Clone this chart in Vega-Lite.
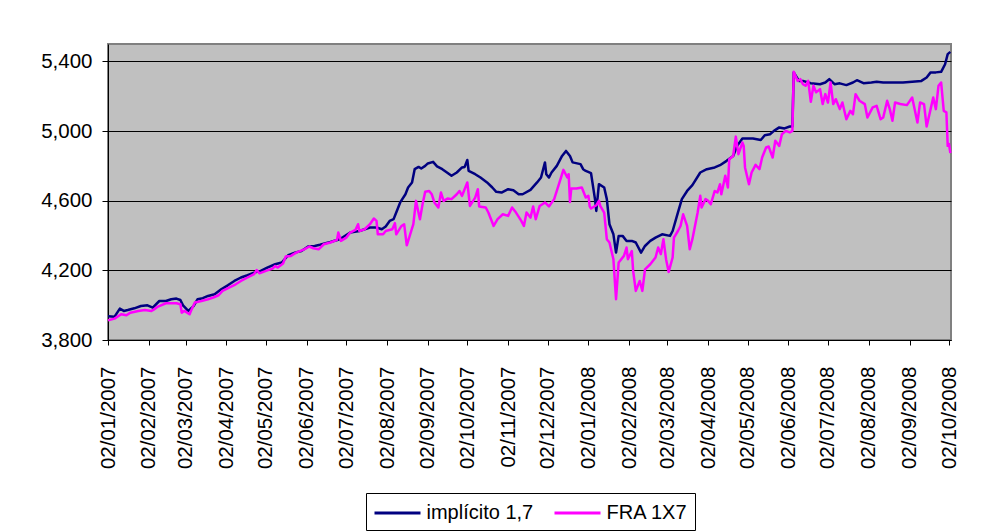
{
  "$schema": "https://vega.github.io/schema/vega-lite/v6.json",
  "width": 843,
  "height": 296,
  "autosize": {"type": "none"},
  "padding": {"left": 108, "top": 44, "right": 36, "bottom": 191},
  "background": "white",
  "config": {
    "font": "Liberation Sans",
    "view": {"fill": "#C0C0C0", "stroke": "#808080", "strokeWidth": 2},
    "axis": {"labelFont": "Liberation Sans", "labelColor": "black", "tickColor": "black", "domainColor": "black", "domainWidth": 1, "tickWidth": 1}
  },
  "datasets": {
    "impl": [
      {"d":"2007-01-02","v":3936},{"d":"2007-01-07","v":3934},{"d":"2007-01-11","v":3980},{"d":"2007-01-14","v":3967},{"d":"2007-01-17","v":3972},{"d":"2007-01-22","v":3982},{"d":"2007-01-27","v":3995},{"d":"2007-02-01","v":3999},{"d":"2007-02-05","v":3986},{"d":"2007-02-10","v":4024},{"d":"2007-02-15","v":4024},{"d":"2007-02-19","v":4034},{"d":"2007-02-23","v":4038},{"d":"2007-02-26","v":4030},{"d":"2007-02-28","v":3999},{"d":"2007-03-04","v":3967},{"d":"2007-03-08","v":3995},{"d":"2007-03-11","v":4034},{"d":"2007-03-15","v":4040},{"d":"2007-03-19","v":4053},{"d":"2007-03-24","v":4063},{"d":"2007-03-29","v":4091},{"d":"2007-04-03","v":4114},{"d":"2007-04-08","v":4139},{"d":"2007-04-13","v":4159},{"d":"2007-04-18","v":4172},{"d":"2007-04-23","v":4187},{"d":"2007-04-28","v":4197},{"d":"2007-05-03","v":4216},{"d":"2007-05-09","v":4235},{"d":"2007-05-14","v":4245},{"d":"2007-05-19","v":4287},{"d":"2007-05-24","v":4302},{"d":"2007-05-29","v":4311},{"d":"2007-06-03","v":4337},{"d":"2007-06-08","v":4340},{"d":"2007-06-12","v":4347},{"d":"2007-06-20","v":4363},{"d":"2007-06-27","v":4379},{"d":"2007-07-05","v":4417},{"d":"2007-07-12","v":4426},{"d":"2007-07-20","v":4446},{"d":"2007-07-25","v":4446},{"d":"2007-07-29","v":4436},{"d":"2007-08-01","v":4452},{"d":"2007-08-04","v":4484},{"d":"2007-08-07","v":4494},{"d":"2007-08-09","v":4532},{"d":"2007-08-12","v":4590},{"d":"2007-08-16","v":4637},{"d":"2007-08-18","v":4676},{"d":"2007-08-21","v":4705},{"d":"2007-08-23","v":4781},{"d":"2007-08-26","v":4794},{"d":"2007-08-28","v":4785},{"d":"2007-08-31","v":4800},{"d":"2007-09-02","v":4814},{"d":"2007-09-06","v":4823},{"d":"2007-09-09","v":4797},{"d":"2007-09-13","v":4781},{"d":"2007-09-16","v":4765},{"d":"2007-09-20","v":4743},{"d":"2007-09-24","v":4762},{"d":"2007-09-28","v":4791},{"d":"2007-09-30","v":4794},{"d":"2007-10-02","v":4834},{"d":"2007-10-03","v":4771},{"d":"2007-10-08","v":4752},{"d":"2007-10-12","v":4733},{"d":"2007-10-17","v":4705},{"d":"2007-10-21","v":4676},{"d":"2007-10-24","v":4651},{"d":"2007-10-28","v":4647},{"d":"2007-11-02","v":4666},{"d":"2007-11-06","v":4660},{"d":"2007-11-10","v":4637},{"d":"2007-11-13","v":4637},{"d":"2007-11-19","v":4662},{"d":"2007-11-24","v":4705},{"d":"2007-11-27","v":4733},{"d":"2007-11-30","v":4820},{"d":"2007-12-01","v":4752},{"d":"2007-12-03","v":4733},{"d":"2007-12-05","v":4762},{"d":"2007-12-09","v":4800},{"d":"2007-12-13","v":4857},{"d":"2007-12-16","v":4886},{"d":"2007-12-19","v":4857},{"d":"2007-12-21","v":4820},{"d":"2007-12-27","v":4810},{"d":"2007-12-29","v":4781},{"d":"2007-12-31","v":4771},{"d":"2008-01-04","v":4758},{"d":"2008-01-07","v":4609},{"d":"2008-01-08","v":4541},{"d":"2008-01-10","v":4695},{"d":"2008-01-14","v":4676},{"d":"2008-01-16","v":4609},{"d":"2008-01-18","v":4465},{"d":"2008-01-21","v":4407},{"d":"2008-01-23","v":4302},{"d":"2008-01-25","v":4398},{"d":"2008-01-28","v":4398},{"d":"2008-01-31","v":4369},{"d":"2008-02-04","v":4369},{"d":"2008-02-07","v":4360},{"d":"2008-02-11","v":4302},{"d":"2008-02-14","v":4340},{"d":"2008-02-18","v":4369},{"d":"2008-02-22","v":4388},{"d":"2008-02-27","v":4407},{"d":"2008-03-04","v":4398},{"d":"2008-03-06","v":4426},{"d":"2008-03-10","v":4532},{"d":"2008-03-13","v":4609},{"d":"2008-03-17","v":4656},{"d":"2008-03-21","v":4689},{"d":"2008-03-27","v":4762},{"d":"2008-04-01","v":4781},{"d":"2008-04-07","v":4791},{"d":"2008-04-11","v":4804},{"d":"2008-04-16","v":4829},{"d":"2008-04-21","v":4857},{"d":"2008-04-24","v":4915},{"d":"2008-04-28","v":4957},{"d":"2008-05-01","v":4957},{"d":"2008-05-06","v":4957},{"d":"2008-05-12","v":4949},{"d":"2008-05-15","v":4976},{"d":"2008-05-19","v":4982},{"d":"2008-05-22","v":5001},{"d":"2008-05-26","v":5021},{"d":"2008-05-30","v":5015},{"d":"2008-06-03","v":5026},{"d":"2008-06-05","v":5026},{"d":"2008-06-06","v":5337},{"d":"2008-06-10","v":5288},{"d":"2008-06-13","v":5288},{"d":"2008-06-19","v":5275},{"d":"2008-06-26","v":5269},{"d":"2008-06-30","v":5279},{"d":"2008-07-03","v":5298},{"d":"2008-07-07","v":5269},{"d":"2008-07-11","v":5274},{"d":"2008-07-16","v":5264},{"d":"2008-07-21","v":5279},{"d":"2008-07-24","v":5292},{"d":"2008-07-29","v":5275},{"d":"2008-08-04","v":5279},{"d":"2008-08-08","v":5283},{"d":"2008-08-13","v":5279},{"d":"2008-08-20","v":5279},{"d":"2008-08-28","v":5279},{"d":"2008-09-04","v":5283},{"d":"2008-09-11","v":5288},{"d":"2008-09-15","v":5308},{"d":"2008-09-18","v":5337},{"d":"2008-09-22","v":5337},{"d":"2008-09-26","v":5340},{"d":"2008-09-29","v":5384},{"d":"2008-10-01","v":5442},{"d":"2008-10-03","v":5455}
    ],
    "fra": [
      {"d":"2007-01-02","v":3913},{"d":"2007-01-07","v":3923},{"d":"2007-01-12","v":3948},{"d":"2007-01-16","v":3942},{"d":"2007-01-19","v":3957},{"d":"2007-01-25","v":3967},{"d":"2007-01-30","v":3972},{"d":"2007-02-04","v":3967},{"d":"2007-02-06","v":3976},{"d":"2007-02-09","v":3992},{"d":"2007-02-15","v":4011},{"d":"2007-02-19","v":4011},{"d":"2007-02-23","v":4011},{"d":"2007-02-26","v":4005},{"d":"2007-02-27","v":3957},{"d":"2007-03-01","v":3967},{"d":"2007-03-05","v":3948},{"d":"2007-03-06","v":3967},{"d":"2007-03-09","v":4015},{"d":"2007-03-14","v":4024},{"d":"2007-03-19","v":4034},{"d":"2007-03-23","v":4044},{"d":"2007-03-27","v":4057},{"d":"2007-03-30","v":4082},{"d":"2007-04-04","v":4101},{"d":"2007-04-09","v":4120},{"d":"2007-04-13","v":4139},{"d":"2007-04-18","v":4159},{"d":"2007-04-23","v":4178},{"d":"2007-04-25","v":4202},{"d":"2007-04-27","v":4183},{"d":"2007-05-02","v":4197},{"d":"2007-05-07","v":4210},{"d":"2007-05-09","v":4225},{"d":"2007-05-11","v":4216},{"d":"2007-05-15","v":4239},{"d":"2007-05-17","v":4279},{"d":"2007-05-21","v":4283},{"d":"2007-05-25","v":4302},{"d":"2007-05-31","v":4321},{"d":"2007-06-04","v":4337},{"d":"2007-06-07","v":4327},{"d":"2007-06-11","v":4321},{"d":"2007-06-15","v":4350},{"d":"2007-06-20","v":4360},{"d":"2007-06-25","v":4375},{"d":"2007-06-26","v":4417},{"d":"2007-06-28","v":4369},{"d":"2007-07-02","v":4388},{"d":"2007-07-05","v":4417},{"d":"2007-07-09","v":4432},{"d":"2007-07-11","v":4465},{"d":"2007-07-12","v":4426},{"d":"2007-07-16","v":4436},{"d":"2007-07-20","v":4465},{"d":"2007-07-23","v":4498},{"d":"2007-07-25","v":4484},{"d":"2007-07-26","v":4407},{"d":"2007-07-30","v":4407},{"d":"2007-08-01","v":4426},{"d":"2007-08-06","v":4436},{"d":"2007-08-08","v":4471},{"d":"2007-08-09","v":4407},{"d":"2007-08-13","v":4455},{"d":"2007-08-15","v":4465},{"d":"2007-08-17","v":4344},{"d":"2007-08-20","v":4417},{"d":"2007-08-22","v":4465},{"d":"2007-08-24","v":4599},{"d":"2007-08-27","v":4494},{"d":"2007-08-29","v":4580},{"d":"2007-08-31","v":4651},{"d":"2007-09-03","v":4656},{"d":"2007-09-05","v":4637},{"d":"2007-09-07","v":4590},{"d":"2007-09-10","v":4561},{"d":"2007-09-12","v":4647},{"d":"2007-09-14","v":4599},{"d":"2007-09-17","v":4613},{"d":"2007-09-20","v":4609},{"d":"2007-09-24","v":4637},{"d":"2007-09-26","v":4656},{"d":"2007-09-28","v":4628},{"d":"2007-10-02","v":4705},{"d":"2007-10-04","v":4570},{"d":"2007-10-08","v":4618},{"d":"2007-10-10","v":4666},{"d":"2007-10-11","v":4567},{"d":"2007-10-16","v":4561},{"d":"2007-10-18","v":4532},{"d":"2007-10-22","v":4455},{"d":"2007-10-25","v":4494},{"d":"2007-10-29","v":4522},{"d":"2007-11-02","v":4513},{"d":"2007-11-05","v":4561},{"d":"2007-11-08","v":4532},{"d":"2007-11-12","v":4484},{"d":"2007-11-14","v":4455},{"d":"2007-11-16","v":4532},{"d":"2007-11-19","v":4503},{"d":"2007-11-21","v":4567},{"d":"2007-11-23","v":4494},{"d":"2007-11-26","v":4570},{"d":"2007-11-30","v":4590},{"d":"2007-12-03","v":4567},{"d":"2007-12-07","v":4609},{"d":"2007-12-12","v":4728},{"d":"2007-12-14","v":4777},{"d":"2007-12-17","v":4733},{"d":"2007-12-18","v":4752},{"d":"2007-12-19","v":4593},{"d":"2007-12-20","v":4670},{"d":"2007-12-24","v":4670},{"d":"2007-12-28","v":4676},{"d":"2007-12-31","v":4618},{"d":"2008-01-02","v":4628},{"d":"2008-01-03","v":4567},{"d":"2008-01-04","v":4555},{"d":"2008-01-08","v":4574},{"d":"2008-01-10","v":4599},{"d":"2008-01-11","v":4570},{"d":"2008-01-14","v":4532},{"d":"2008-01-16","v":4379},{"d":"2008-01-18","v":4360},{"d":"2008-01-21","v":4264},{"d":"2008-01-23","v":4034},{"d":"2008-01-25","v":4245},{"d":"2008-01-29","v":4283},{"d":"2008-01-31","v":4331},{"d":"2008-02-01","v":4264},{"d":"2008-02-04","v":4311},{"d":"2008-02-05","v":4197},{"d":"2008-02-07","v":4082},{"d":"2008-02-10","v":4139},{"d":"2008-02-12","v":4082},{"d":"2008-02-14","v":4206},{"d":"2008-02-18","v":4235},{"d":"2008-02-22","v":4274},{"d":"2008-02-24","v":4331},{"d":"2008-02-26","v":4293},{"d":"2008-02-28","v":4379},{"d":"2008-03-01","v":4264},{"d":"2008-03-03","v":4191},{"d":"2008-03-06","v":4274},{"d":"2008-03-07","v":4388},{"d":"2008-03-10","v":4426},{"d":"2008-03-12","v":4455},{"d":"2008-03-14","v":4522},{"d":"2008-03-17","v":4455},{"d":"2008-03-19","v":4321},{"d":"2008-03-21","v":4379},{"d":"2008-03-25","v":4532},{"d":"2008-03-27","v":4628},{"d":"2008-03-28","v":4561},{"d":"2008-03-31","v":4609},{"d":"2008-04-02","v":4599},{"d":"2008-04-04","v":4580},{"d":"2008-04-07","v":4656},{"d":"2008-04-09","v":4647},{"d":"2008-04-11","v":4695},{"d":"2008-04-12","v":4637},{"d":"2008-04-15","v":4743},{"d":"2008-04-17","v":4676},{"d":"2008-04-18","v":4838},{"d":"2008-04-21","v":4857},{"d":"2008-04-23","v":4968},{"d":"2008-04-25","v":4867},{"d":"2008-04-28","v":4934},{"d":"2008-04-29","v":4915},{"d":"2008-04-30","v":4791},{"d":"2008-05-03","v":4695},{"d":"2008-05-05","v":4762},{"d":"2008-05-08","v":4806},{"d":"2008-05-11","v":4781},{"d":"2008-05-13","v":4848},{"d":"2008-05-16","v":4906},{"d":"2008-05-18","v":4911},{"d":"2008-05-21","v":4848},{"d":"2008-05-23","v":4944},{"d":"2008-05-26","v":4915},{"d":"2008-05-28","v":4982},{"d":"2008-05-31","v":5001},{"d":"2008-06-03","v":4992},{"d":"2008-06-05","v":5001},{"d":"2008-06-06","v":5340},{"d":"2008-06-09","v":5288},{"d":"2008-06-11","v":5298},{"d":"2008-06-13","v":5269},{"d":"2008-06-15","v":5260},{"d":"2008-06-17","v":5288},{"d":"2008-06-19","v":5168},{"d":"2008-06-21","v":5260},{"d":"2008-06-23","v":5222},{"d":"2008-06-26","v":5241},{"d":"2008-06-28","v":5155},{"d":"2008-06-30","v":5212},{"d":"2008-07-02","v":5164},{"d":"2008-07-04","v":5279},{"d":"2008-07-06","v":5155},{"d":"2008-07-08","v":5183},{"d":"2008-07-11","v":5126},{"d":"2008-07-13","v":5164},{"d":"2008-07-16","v":5068},{"d":"2008-07-19","v":5116},{"d":"2008-07-21","v":5097},{"d":"2008-07-23","v":5212},{"d":"2008-07-26","v":5174},{"d":"2008-07-30","v":5155},{"d":"2008-08-01","v":5078},{"d":"2008-08-05","v":5136},{"d":"2008-08-08","v":5145},{"d":"2008-08-11","v":5068},{"d":"2008-08-13","v":5078},{"d":"2008-08-16","v":5174},{"d":"2008-08-18","v":5126},{"d":"2008-08-20","v":5059},{"d":"2008-08-22","v":5164},{"d":"2008-08-26","v":5155},{"d":"2008-08-31","v":5149},{"d":"2008-09-04","v":5193},{"d":"2008-09-08","v":5049},{"d":"2008-09-10","v":5164},{"d":"2008-09-13","v":5155},{"d":"2008-09-15","v":5026},{"d":"2008-09-18","v":5126},{"d":"2008-09-20","v":5193},{"d":"2008-09-22","v":5126},{"d":"2008-09-24","v":5260},{"d":"2008-09-26","v":5279},{"d":"2008-09-28","v":5116},{"d":"2008-09-30","v":5107},{"d":"2008-10-01","v":4915},{"d":"2008-10-02","v":4925},{"d":"2008-10-03","v":4873}
    ]
  },
  "encoding": {
    "x": {
      "field": "d", "type": "temporal",
      "scale": {"type": "utc", "domain": [{"year": 2007, "month": 1, "date": 2, "utc": true}, {"year": 2008, "month": 10, "date": 3, "hours": 12, "utc": true}]},
      "axis": {
        "title": null,
        "labelExpr": "utcFormat(datum.value, '%d/%m/%Y')",
        "values": [
          {"year": 2007, "month": 1, "date": 2, "utc": true}, {"year": 2007, "month": 2, "date": 2, "utc": true}, {"year": 2007, "month": 3, "date": 2, "utc": true}, {"year": 2007, "month": 4, "date": 2, "utc": true}, {"year": 2007, "month": 5, "date": 2, "utc": true}, {"year": 2007, "month": 6, "date": 2, "utc": true}, {"year": 2007, "month": 7, "date": 2, "utc": true}, {"year": 2007, "month": 8, "date": 2, "utc": true}, {"year": 2007, "month": 9, "date": 2, "utc": true}, {"year": 2007, "month": 10, "date": 2, "utc": true}, {"year": 2007, "month": 11, "date": 2, "utc": true}, {"year": 2007, "month": 12, "date": 2, "utc": true},
          {"year": 2008, "month": 1, "date": 2, "utc": true}, {"year": 2008, "month": 2, "date": 2, "utc": true}, {"year": 2008, "month": 3, "date": 2, "utc": true}, {"year": 2008, "month": 4, "date": 2, "utc": true}, {"year": 2008, "month": 5, "date": 2, "utc": true}, {"year": 2008, "month": 6, "date": 2, "utc": true}, {"year": 2008, "month": 7, "date": 2, "utc": true}, {"year": 2008, "month": 8, "date": 2, "utc": true}, {"year": 2008, "month": 9, "date": 2, "utc": true}, {"year": 2008, "month": 10, "date": 2, "utc": true}
        ],
        "labelAngle": 270, "labelAlign": "right", "labelBaseline": "middle",
        "labelFontSize": 20.5, "labelPadding": 21, "tickSize": 5,
        "labelOverlap": false, "labelFlush": false, "labelBound": false, "grid": false
      }
    },
    "y": {
      "field": "v", "type": "quantitative",
      "scale": {"domain": [3800, 5500], "nice": false, "zero": false},
      "axis": {
        "title": null, "values": [3800, 4200, 4600, 5000, 5400],
        "labelExpr": "format(datum.value, ',')",
        "labelFontSize": 20.5, "labelPadding": 10, "tickSize": 6,
        "grid": true, "gridColor": "black", "gridOpacity": 1, "gridWidth": 1
      }
    }
  },
  "layer": [
    {
      "data": {"name": "impl"},
      "mark": {"type": "line", "strokeWidth": 2.5, "strokeJoin": "round"},
      "encoding": {
        "color": {
          "datum": "implícito 1,7",
          "scale": {"domain": ["implícito 1,7", "FRA 1X7"], "range": ["#000080", "#FF00FF"]},
          "legend": {
            "title": null, "orient": "none", "legendX": 258, "legendY": 449, "direction": "horizontal",
            "symbolType": "M-2,0H2", "symbolSize": 529, "symbolOffset": 11.5, "symbolStrokeWidth": 3,
            "labelFontSize": 20, "labelFont": "Liberation Sans", "labelColor": "black", "labelLimit": 300,
            "labelOffset": 16, "columnPadding": 14,
            "strokeColor": "black", "fillColor": "white", "padding": 7
          }
        }
      }
    },
    {
      "data": {"name": "fra"},
      "mark": {"type": "line", "strokeWidth": 2.5, "strokeJoin": "round"},
      "encoding": {"color": {"datum": "FRA 1X7"}}
    }
  ]
}
